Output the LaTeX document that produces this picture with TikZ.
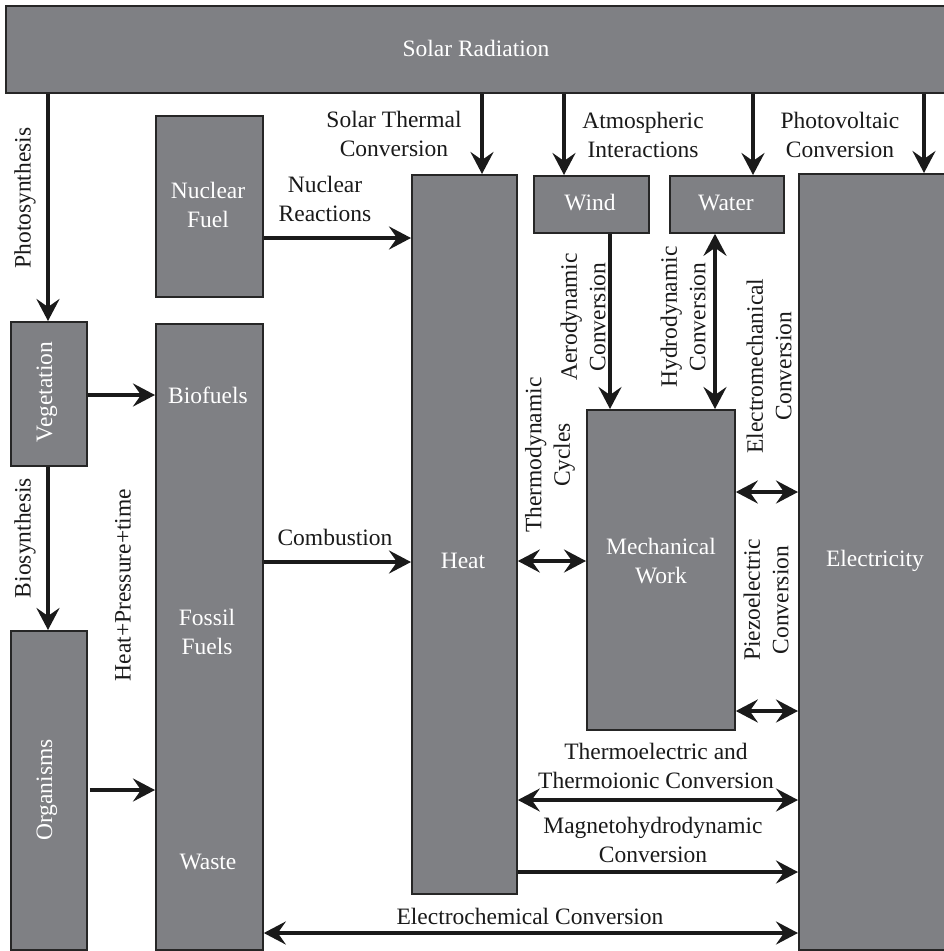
\documentclass[tikz,border=0pt]{standalone}
\usepackage{fontspec}
\setmainfont{Liberation Serif}
\usetikzlibrary{arrows.meta}
\definecolor{boxfill}{HTML}{7F8084}
\definecolor{boxline}{HTML}{262626}
\definecolor{ink}{HTML}{1A1A1A}
\begin{document}
\begin{tikzpicture}[x=1pt,y=-1pt,
  font=\fontsize{23.5}{28.5}\selectfont,
  box/.style={draw=boxline,fill=boxfill,line width=1.8pt,inner sep=0pt,anchor=north west},
  intext/.style={text=white,align=center,inner sep=0pt},
  outtext/.style={text=ink,align=center,inner sep=0pt},
  tip/.tip={Stealth[length=22pt,width=23pt,inset=8pt]},
  arr/.style={draw=ink,line width=4.8pt,-tip},
  darr/.style={draw=ink,line width=4.8pt,tip-tip}]
\useasboundingbox (0,0) rectangle (944,951);
\clip (0,0) rectangle (944,951);
\fill[white] (0,0) rectangle (944,951);

% boxes (solar and electricity run off the right edge)
\node[box,minimum width=965pt,minimum height=87pt] (solar) at (5,5) {};
\node[box,minimum width=107pt,minimum height=181pt] (nuclear) at (155,115) {};
\node[box,minimum width=76pt,minimum height=144pt] (veg) at (10,321) {};
\node[box,minimum width=76pt,minimum height=319pt] (org) at (10,630) {};
\node[box,minimum width=107pt,minimum height=626pt] (fuels) at (155,323) {};
\node[box,minimum width=105pt,minimum height=719pt] (heat) at (411,174) {};
\node[box,minimum width=115pt,minimum height=57pt] (wind) at (533,175) {};
\node[box,minimum width=114pt,minimum height=57pt] (water) at (669,175) {};
\node[box,minimum width=148pt,minimum height=320pt] (mech) at (586,409) {};
\node[box,minimum width=180pt,minimum height=776pt] (elec) at (798,173) {};

% text inside boxes
\node[intext] (tSolar) at (476,48) {Solar Radiation};
\node[intext] (tNuc) at (208,205) {Nuclear\\Fuel};
\node[intext,rotate=90] (tVeg) at (47,392) {Vegetation};
\node[intext,rotate=90] (tOrg) at (47,790) {Organisms};
\node[intext] (tBio) at (208,395) {Biofuels};
\node[intext] (tFos) at (207,632) {Fossil\\Fuels};
\node[intext] (tWaste) at (208,862) {Waste};
\node[intext] (tHeat) at (463,561) {Heat};
\node[intext] (tWind) at (590,203) {Wind};
\node[intext] (tWater) at (726,203) {Water};
\node[intext] (tMech) at (661,561) {Mechanical\\Work};
\node[intext] (tElec) at (875,561) {Electricity};

% x positions of the vertical arrows
\coordinate (xPh) at (48,0);
\coordinate (xST) at (482,0);
\coordinate (xWi) at (564,0);
\coordinate (xWa) at (753,0);
\coordinate (xPV) at (924,0);
\coordinate (xAe) at (610,0);
\coordinate (xHy) at (715,0);
% y positions of the horizontal arrows
\coordinate (yVB) at (0,395);
\coordinate (yOF) at (0,790);
\coordinate (yNR) at (0,238);
\coordinate (yCo) at (0,562);
\coordinate (yTd) at (0,561);
\coordinate (yEm) at (0,492);
\coordinate (yPz) at (0,711);
\coordinate (yTe) at (0,800);
\coordinate (yMh) at (0,872);
\coordinate (yEc) at (0,933);

% connectors
\draw[arr] (solar.south -| xPh) -- (veg.north -| xPh);
\draw[arr] (veg.south -| xPh) -- (org.north -| xPh);
\draw[arr] (veg.east |- yVB) -- (fuels.west |- yVB);
\draw[arr] ([xshift=2pt]org.east |- yOF) -- (fuels.west |- yOF);
\draw[arr] (solar.south -| xST) -- (heat.north -| xST);
\draw[arr] (solar.south -| xWi) -- (wind.north -| xWi);
\draw[arr] (solar.south -| xWa) -- (water.north -| xWa);
\draw[arr] (solar.south -| xPV) -- (elec.north -| xPV);
\draw[arr] (nuclear.east |- yNR) -- (heat.west |- yNR);
\draw[arr] (fuels.east |- yCo) -- (heat.west |- yCo);
\draw[arr] (wind.south -| xAe) -- (mech.north -| xAe);
\draw[darr] (water.south -| xHy) -- (mech.north -| xHy);
\draw[darr] (heat.east |- yTd) -- (mech.west |- yTd);
\draw[darr] (mech.east |- yEm) -- (elec.west |- yEm);
\draw[darr] (mech.east |- yPz) -- (elec.west |- yPz);
\draw[darr] (heat.east |- yTe) -- (elec.west |- yTe);
\draw[arr] (heat.east |- yMh) -- (elec.west |- yMh);
\draw[darr] (fuels.east |- yEc) -- (elec.west |- yEc);

% connector labels
\node[outtext,rotate=90] (lPh) at (25,198) {Photosynthesis};
\node[outtext,rotate=90] (lBs) at (25,538) {Biosynthesis};
\node[outtext,rotate=90] (lHp) at (123,585) {Heat+Pressure+time};
\node[outtext] (lST) at (394,134) {Solar Thermal\\Conversion};
\node[outtext] (lAt) at (643,135) {Atmospheric\\Interactions};
\node[outtext] (lPV) at (840,135) {Photovoltaic\\Conversion};
\node[outtext] (lNR) at (325,199) {Nuclear\\Reactions};
\node[outtext] (lCo) at (335,537) {Combustion};
\node[outtext,rotate=90] (lAe) at (583,317) {Aerodynamic\\Conversion};
\node[outtext,rotate=90] (lHy) at (683,317) {Hydrodynamic\\Conversion};
\node[outtext,rotate=90] (lEm) at (769,366) {Electromechanical\\Conversion};
\node[outtext,rotate=90] (lTd) at (550,455) {Thermodynamic\\Cycles};
\node[outtext,rotate=90] (lPz) at (766,600) {Piezoelectric\\Conversion};
\node[outtext] (lTe) at (656,766) {Thermoelectric and\\Thermoionic Conversion};
\node[outtext] (lMh) at (653,840) {Magnetohydrodynamic\\Conversion};
\node[outtext] (lEc) at (530,916) {Electrochemical Conversion};
\end{tikzpicture}
\end{document}
